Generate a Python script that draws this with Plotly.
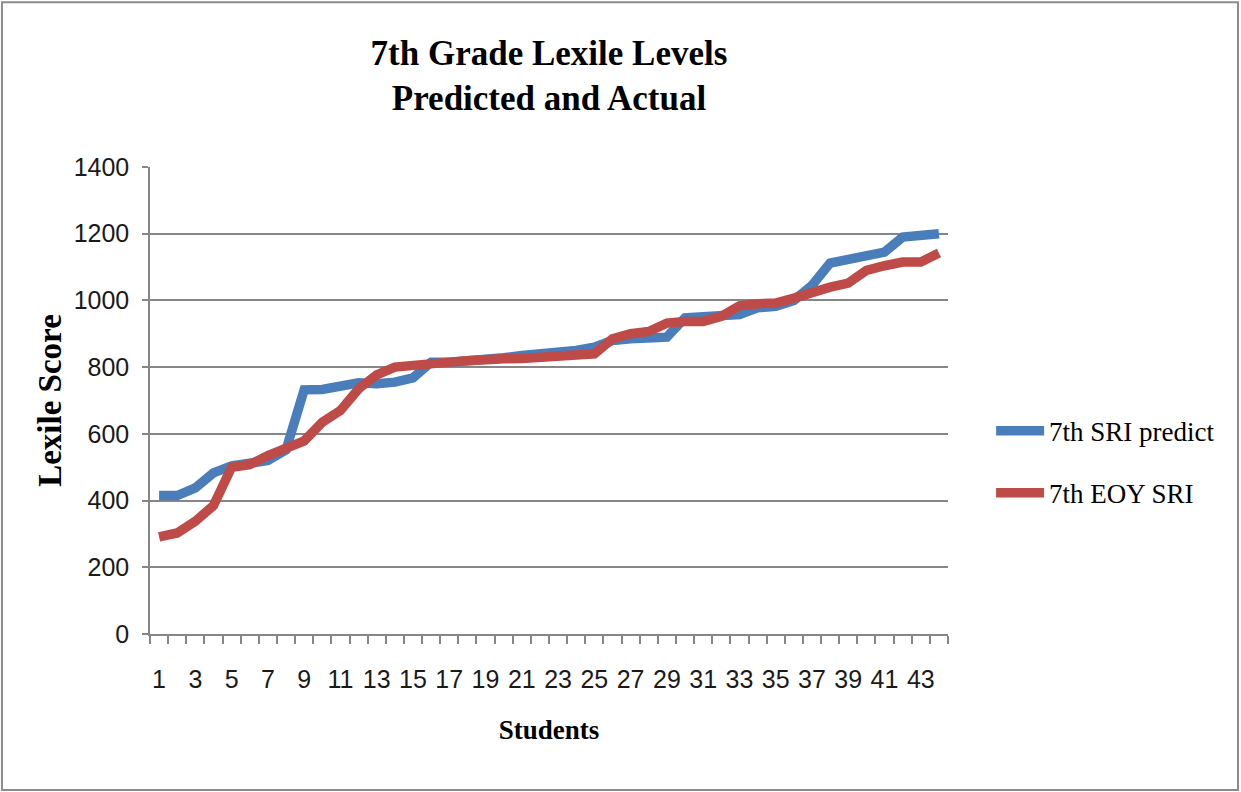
import plotly.graph_objects as go

students = list(range(1, 45))
sri_predict = [415, 415, 438, 483, 504, 515, 520, 552, 732, 733,
               744, 753, 750, 755, 768, 815, 815, 818, 825, 828,
               835, 838, 848, 850, 860, 880, 885, 885, 890, 948,
               952, 952, 958, 978, 982, 1000, 1045, 1112, 1125, 1138,
               1145, 1190, 1196, 1200]
eoy_sri = [291, 303, 338, 385, 500, 508, 535, 560, 579, 635,
           670, 735, 777, 800, 807, 815, 815, 819, 825, 825,
           826, 828, 832, 832, 840, 885, 900, 907, 932, 937,
           937, 952, 984, 990, 992, 1007, 1025, 1040, 1052, 1090,
           1104, 1115, 1115, 1142]
x_tick_vals = list(range(1, 44, 2))
x_tick_text = [str(v) for v in x_tick_vals]

SERIF = "Liberation Serif, Times New Roman, serif"
NARROW = "Liberation Sans Narrow, Arial Narrow, Liberation Sans, Arial, sans-serif"
GRID = "#868686"

fig = go.Figure()
fig.add_trace(go.Scatter(x=students, y=sri_predict, mode="lines", name="7th SRI predict",
                         legendgroup="a", line=dict(color="#4A7EBB", width=9.5)))
fig.add_trace(go.Scatter(x=students, y=eoy_sri, mode="lines", name="7th EOY SRI",
                         legendgroup="b", line=dict(color="#BE4B48", width=9.5)))

fig.update_layout(
    width=1241, height=792,
    margin=dict(l=150, r=293, t=167, b=158),
    paper_bgcolor="white", plot_bgcolor="white",
    title=dict(text="<b>7th Grade Lexile Levels<br>Predicted and Actual</b>",
               font=dict(family=SERIF, size=35, color="black"),
               x=0.5, xref="paper", xanchor="center", y=0.918, yanchor="middle"),
    legend=dict(x=1.054, y=0.368, xanchor="left", yanchor="middle",
                font=dict(family=SERIF, size=27, color="black"),
                tracegroupgap=24, traceorder="grouped", itemwidth=48,
                bgcolor="rgba(0,0,0,0)"),
    showlegend=True,
)

fig.update_xaxes(range=[0.5, 44.5], tickmode="array", tickvals=x_tick_vals, ticktext=x_tick_text,
                 ticks="", showgrid=False, zeroline=False, showline=True, linecolor=GRID, linewidth=1.5,
                 tickfont=dict(family=NARROW, size=25, color="#1a1a1a"),
                 ticklabelstandoff=22,
                 minor=dict(tickmode="linear", tick0=0.5, dtick=1, ticks="outside", ticklen=8,
                            tickcolor=GRID, tickwidth=1.5, showgrid=False),
                 title=dict(text="<b>Students</b>", font=dict(family=SERIF, size=27, color="black"), standoff=28))

fig.update_yaxes(range=[0, 1400], dtick=200, tick0=0, showgrid=True, gridcolor=GRID, gridwidth=1.5,
                 zeroline=False, showline=True, linecolor=GRID, linewidth=1.5,
                 ticks="outside", ticklen=6, tickcolor=GRID, tickwidth=1.5,
                 tickfont=dict(family=NARROW, size=25, color="#1a1a1a"),
                 ticklabelstandoff=8,
                 title=dict(text="<b>Lexile Score</b>", font=dict(family=SERIF, size=33, color="black"), standoff=2))

fig.add_shape(type="rect", xref="paper", yref="paper",
              x0=-0.1855, x1=1.3634, y0=-0.334, y1=1.353,
              line=dict(color="#8c8c8c", width=2), fillcolor="rgba(0,0,0,0)", layer="below")

fig.write_html("out.html", config={"displayModeBar": False},
               post_script="document.body.style.margin='0';document.body.style.overflow='hidden';")
